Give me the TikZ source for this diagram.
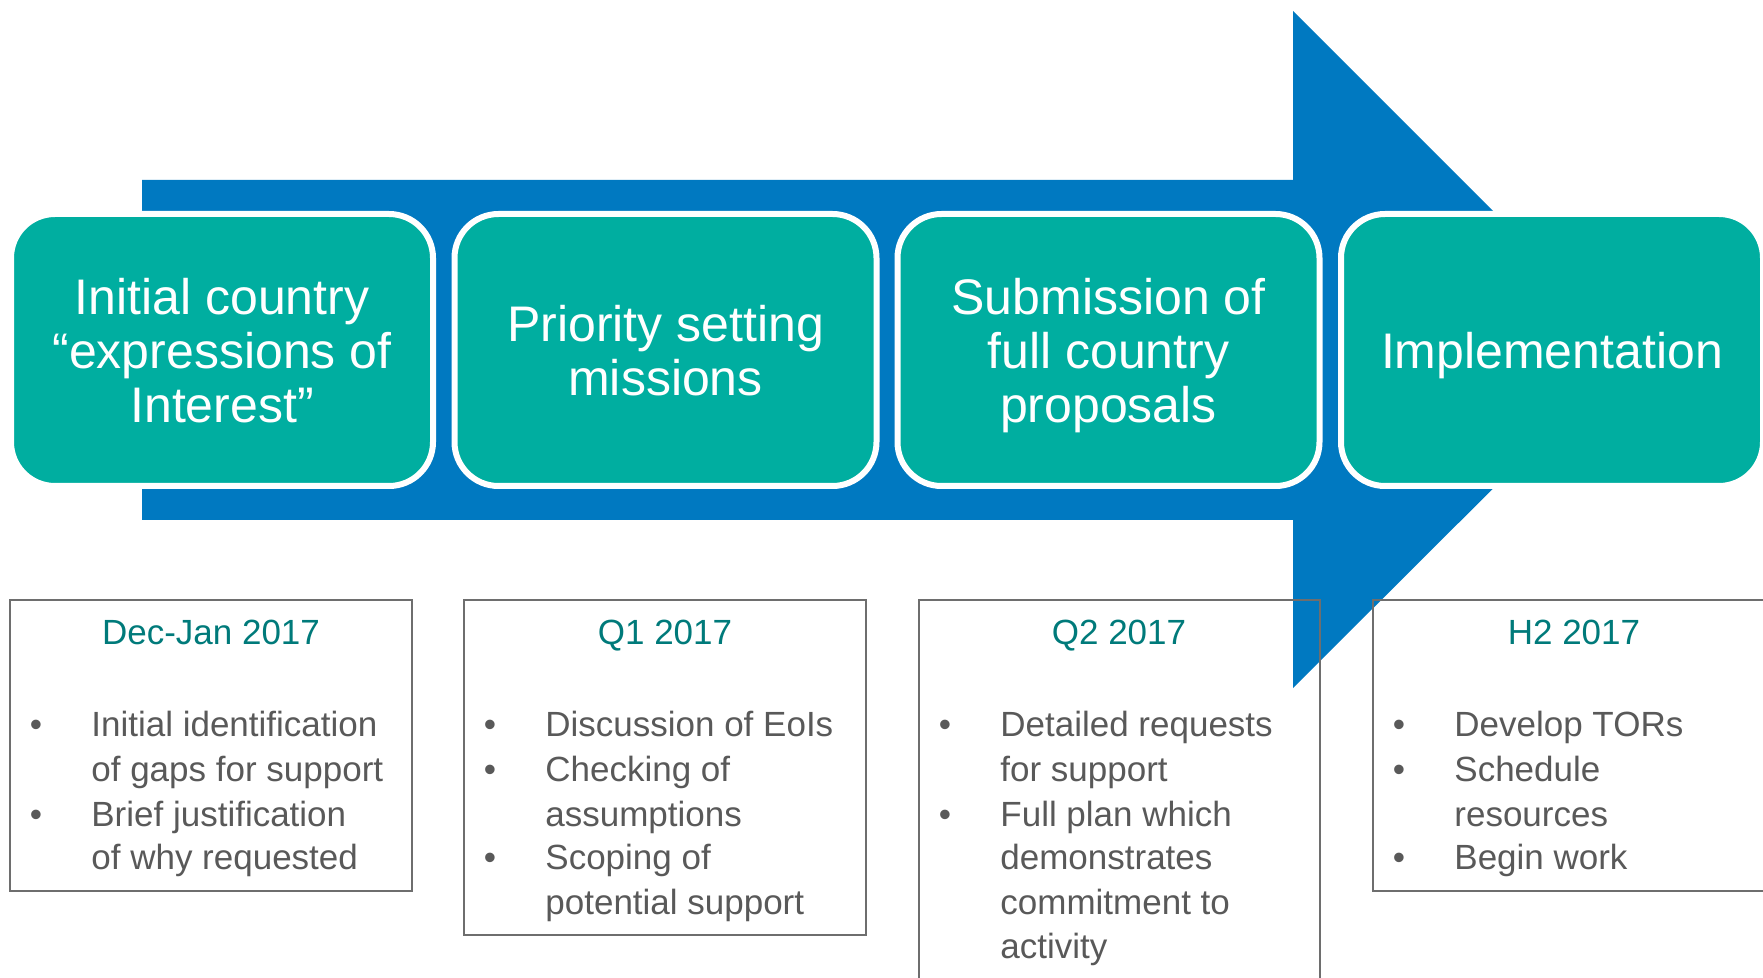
\documentclass[tikz,border=0pt]{standalone}
\usepackage{fontspec}
\setmainfont{Liberation Sans}
\definecolor{arrowblue}{RGB}{0,121,193}
\definecolor{boxteal}{RGB}{0,174,160}
\definecolor{titleteal}{RGB}{0,122,122}
\definecolor{bodygray}{RGB}{89,89,89}
\definecolor{framegray}{RGB}{110,110,110}
\tikzset{
  topbox/.style={fill=boxteal, draw=white, line width=3pt, rounded corners=22pt,
    minimum width=211pt, minimum height=136pt, inner sep=0pt, align=center,
    text depth=0pt, text=white, font=\fontsize{25}{27}\selectfont},
  datebox/.style={draw=framegray, line width=0.75pt, inner sep=0pt},
  datetitle/.style={text=titleteal, inner sep=0pt, anchor=base, font=\fontsize{17.5}{22}\selectfont},
  btext/.style={text=bodygray, inner sep=0pt, font=\fontsize{17.5}{22}\selectfont}
}
\newcommand\bitem[4]{%
  \node[btext,anchor=base] (#3b) at (#1+26,#2) {•};
  \node[btext,anchor=base west] (#3) at (#1+81,#2) {#4};}
\newcommand\bcont[4]{%
  \node[btext,anchor=base west] (#3) at (#1+81,#2) {#4};}
\begin{document}
\begin{tikzpicture}[x=0.5pt,y=-0.5pt]
\useasboundingbox (0,0) rectangle (1763,978);
% big arrow
\fill[arrowblue] (142,180) -- (1293,180) -- (1293,11) -- (1632,350)
  -- (1293,688) -- (1293,520) -- (142,520) -- cycle;
% stage boxes
\node[topbox] (s1) at (222,350) {Initial country\\“expressions of\\Interest”};
\node[topbox] (s2) at (665.5,350) {Priority setting\\missions};
\node[topbox] (s3) at (1108.5,350) {Submission of\\full country\\proposals};
\node[topbox] (s4) at (1552,350) {Implementation};
% date boxes
\draw[datebox] (10,600) rectangle (412,891);
\draw[datebox] (464,600) rectangle (866,935);
\draw[datebox] (919,600) rectangle (1320,1010);
\draw[datebox] (1373,600) rectangle (1780,891);
% titles
\node[datetitle] (t1) at (211,645) {Dec-Jan 2017};
\node[datetitle] (t2) at (665,645) {Q1 2017};
\node[datetitle] (t3) at (1119,645) {Q2 2017};
\node[datetitle] (t4) at (1574,645) {H2 2017};
% box 1
\bitem{10}{736}{a1}{Initial identification}
\bcont{10}{781}{a2}{of gaps for support}
\bitem{10}{826}{a3}{Brief justification}
\bcont{10}{869}{a4}{of why requested}
% box 2
\bitem{464}{736}{b1}{Discussion of EoIs}
\bitem{464}{781}{b2}{Checking of}
\bcont{464}{826}{b3}{assumptions}
\bitem{464}{869}{b4}{Scoping of}
\bcont{464}{914}{b5}{potential support}
% box 3
\bitem{919}{736}{c1}{Detailed requests}
\bcont{919}{781}{c2}{for support}
\bitem{919}{826}{c3}{Full plan which}
\bcont{919}{869}{c4}{demonstrates}
\bcont{919}{914}{c5}{commitment to}
\bcont{919}{958}{c6}{activity}
% box 4
\bitem{1373}{736}{d1}{Develop TORs}
\bitem{1373}{781}{d2}{Schedule}
\bcont{1373}{826}{d3}{resources}
\bitem{1373}{869}{d4}{Begin work}
\end{tikzpicture}
\end{document}
